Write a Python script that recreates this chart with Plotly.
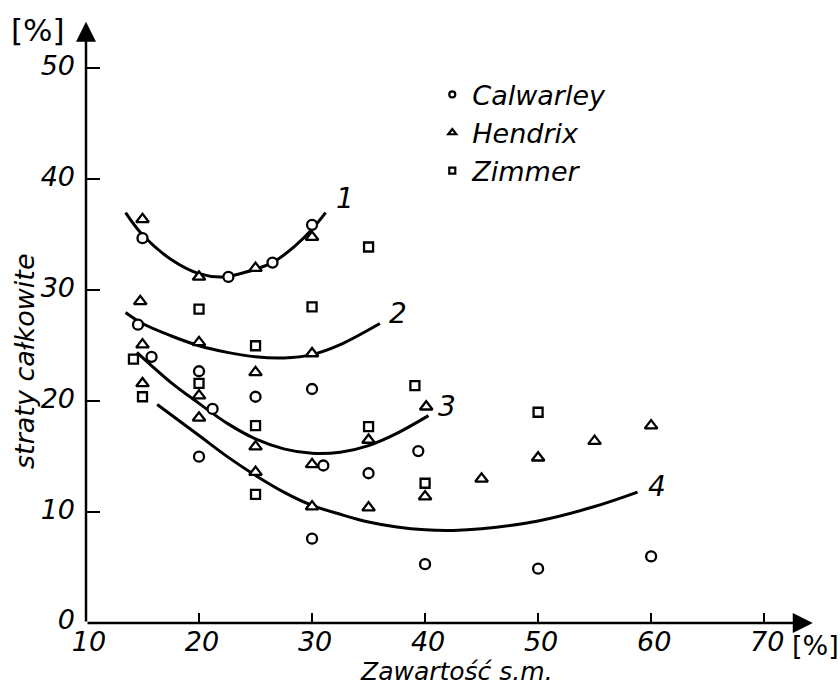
import plotly.graph_objects as go

FONT = "DejaVu Sans"

# ---- data ----
cal_x = [15, 22.6, 26.5, 30, 14.6, 15.8, 20, 21.2, 20, 25, 30, 31, 30, 35, 39.4, 40, 50, 60]
cal_y = [34.7, 31.2, 32.5, 35.9, 26.9, 24.0, 22.7, 19.3, 15.0, 20.4, 21.1, 14.2, 7.6, 13.5, 15.5, 5.3, 4.9, 6.0]

hen_x = [15, 20, 25, 30, 14.8, 20, 30, 15, 15, 20, 20, 25, 25, 25, 30, 30, 35, 35, 40.1, 40, 45, 50, 55, 60]
hen_y = [36.4, 31.2, 32.0, 34.8, 29.0, 25.3, 24.3, 25.1, 21.6, 20.5, 18.5, 22.6, 15.9, 13.6, 14.3, 10.5, 16.5, 10.4, 19.5, 11.4, 13.0, 14.9, 16.4, 17.8]

zim_x = [20, 30, 35, 25, 14.2, 15, 20, 25, 25, 35, 39.1, 40, 50]
zim_y = [28.3, 28.5, 33.9, 25.0, 23.8, 20.4, 21.6, 17.8, 11.6, 17.7, 21.4, 12.6, 19.0]

curve1_x = [13.5, 15, 17.5, 20, 22, 24, 26.5, 28.5, 30, 31.2]
curve1_y = [37.0, 35.0, 32.8, 31.5, 31.2, 31.6, 32.5, 34.0, 35.5, 37.0]

curve2_x = [13.5, 15, 17.5, 20, 22.5, 25, 27.5, 30, 32.5, 36]
curve2_y = [28.0, 27.0, 25.9, 25.0, 24.4, 24.0, 23.9, 24.2, 25.1, 27.0]

curve3_x = [14.5, 17.5, 20, 22.5, 25, 27.5, 30, 32.5, 35, 37.5, 40.3]
curve3_y = [24.4, 21.7, 19.8, 18.0, 16.6, 15.7, 15.3, 15.4, 16.0, 17.1, 18.7]

curve4_x = [16.3, 20, 22.5, 25, 27.5, 30, 32.5, 35, 37.5, 40, 42.5, 45, 50, 55, 58.8]
curve4_y = [19.7, 16.9, 15.0, 13.3, 11.8, 10.6, 9.8, 9.1, 8.65, 8.4, 8.35, 8.5, 9.2, 10.5, 11.8]

curve_labels = ["1", "2", "3", "4"]
label_x = [32.9, 37.6, 41.9, 60.5]
label_y = [38.3, 27.9, 19.5, 12.3]

series_names = ["Calwarley", "Hendrix", "Zimmer"]
x_ticks = [10, 20, 30, 40, 50, 60, 70]
y_ticks = [0, 10, 20, 30, 40, 50]

x_title = "Zawartość s.m."
y_title = "straty całkowite"
unit = "[%]"

# ---- figure ----
fig = go.Figure()

for cx, cy in [(curve1_x, curve1_y), (curve2_x, curve2_y), (curve3_x, curve3_y), (curve4_x, curve4_y)]:
    fig.add_trace(go.Scatter(x=cx, y=cy, mode="lines",
                             line=dict(color="black", width=3, shape="spline", smoothing=1.0),
                             showlegend=False, hoverinfo="skip"))

marker_specs = [("circle", 10, 6), ("triangle-up", 11, 7), ("square", 9, 6)]
data_sets = [(cal_x, cal_y), (hen_x, hen_y), (zim_x, zim_y)]
for (sym, sz, lsz), (dx, dy), name in zip(marker_specs, data_sets, series_names):
    fig.add_trace(go.Scatter(x=dx, y=dy, mode="markers", name=name, showlegend=False,
                             marker=dict(symbol=sym, size=sz, color="white",
                                         line=dict(color="black", width=2.3))))
for (sym, sz, lsz), name in zip(marker_specs, series_names):
    fig.add_trace(go.Scatter(x=[None], y=[None], mode="markers", name=name, showlegend=True,
                             marker=dict(symbol=sym, size=lsz, color="white",
                                         line=dict(color="black", width=2.2))))

annotations = []
for t, lx, ly in zip(curve_labels, label_x, label_y):
    annotations.append(dict(x=lx, y=ly, xref="x", yref="y", text=t, showarrow=False,
                            font=dict(family=FONT, size=28, color="black", style="italic")))

# axis arrows
annotations.append(dict(x=74.3, y=0, ax=10, ay=0, xref="x", yref="y", axref="x", ayref="y",
                        text="", showarrow=True, arrowhead=2, arrowsize=1.6, arrowwidth=2.5,
                        arrowcolor="black"))
annotations.append(dict(x=10, y=54.2, ax=10, ay=0, xref="x", yref="y", axref="x", ayref="y",
                        text="", showarrow=True, arrowhead=2, arrowsize=1.6, arrowwidth=2.5,
                        arrowcolor="black"))

# titles
annotations.append(dict(x=0, y=0, xref="paper", yref="paper", xanchor="center", yanchor="middle",
                        xshift=456 - 86, yshift=-(671 - 623), text=x_title, showarrow=False,
                        font=dict(family=FONT, size=25, color="black", style="italic")))
annotations.append(dict(x=0, y=0, xref="paper", yref="paper", xanchor="center", yanchor="middle",
                        xshift=24 - 86, yshift=623 - 361, text=y_title, textangle=-90, showarrow=False,
                        font=dict(family=FONT, size=27, color="black", style="italic")))
annotations.append(dict(x=0, y=0, xref="paper", yref="paper", xanchor="center", yanchor="middle",
                        xshift=38 - 86, yshift=623 - 30, text=unit, showarrow=False,
                        font=dict(family=FONT, size=31, color="black")))
annotations.append(dict(x=0, y=0, xref="paper", yref="paper", xanchor="center", yanchor="middle",
                        xshift=815 - 86, yshift=623 - 645, text=unit, showarrow=False,
                        font=dict(family=FONT, size=27, color="black")))

tickfont = dict(family=FONT, size=27, color="black", style="italic")

fig.update_layout(
    width=840, height=685,
    margin=dict(l=86, r=25, t=13, b=62),
    paper_bgcolor="white", plot_bgcolor="white",
    xaxis=dict(range=[10, 74.5], tickvals=x_ticks, ticktext=[str(v) for v in x_ticks],
               ticks="inside", ticklen=10, tickwidth=2, tickcolor="black",
               showgrid=False, zeroline=False, showline=False, tickfont=tickfont,
               ticklabelstandoff=0, ticklabelshift=3),
    yaxis=dict(range=[0, 55], tickvals=y_ticks, ticktext=[str(v) for v in y_ticks],
               ticks="inside", ticklen=14, tickwidth=2, tickcolor="black",
               showgrid=False, zeroline=False, showline=False, tickfont=tickfont,
               ticklabelstandoff=10, ticklabelshift=-3),
    legend=dict(x=0.475, y=0.906, xanchor="left", yanchor="top", bgcolor="rgba(0,0,0,0)",
                font=dict(family=FONT, size=27, color="black", style="italic"),
                itemwidth=30, tracegroupgap=0),
    annotations=annotations,
    showlegend=True,
)

fig.write_html("out.html")
